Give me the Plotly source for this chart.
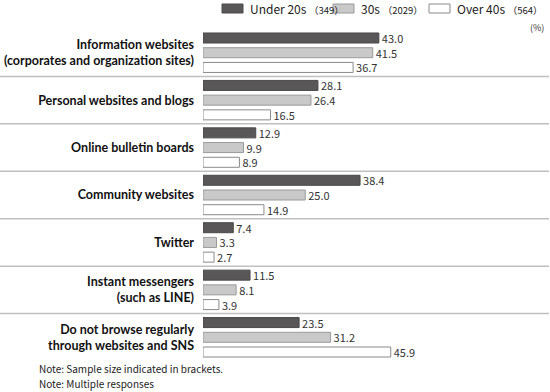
import plotly.graph_objects as go

categories = [
    "Information websites<br>(corporates and organization sites)",
    "Personal websites and blogs",
    "Online bulletin boards",
    "Community websites",
    "Twitter",
    "Instant messengers<br>(such as LINE)",
    "Do not browse regularly<br>through websites and SNS",
]
series_names = ["Under 20s", "30s", "Over 40s"]
sample_sizes = ["349", "2029", "564"]
under20 = [43.0, 28.1, 12.9, 38.4, 7.4, 11.5, 23.5]
s30 = [41.5, 26.4, 9.9, 25.0, 3.3, 8.1, 31.2]
over40 = [36.7, 16.5, 8.9, 14.9, 2.7, 3.9, 45.9]
series_values = [under20, s30, over40]
notes = ["Note: Sample size indicated in brackets.", "Note: Multiple responses"]

fills = ["#595757", "#c9c9c9", "#ffffff"]
outlines = ["#4a4848", "#9a9a9a", "#8a8a8a"]

W, H = 550, 392
L, R, T, B = 203, 1, 29, 31
PW, PH = W - L - R, H - T - B
PX_PER_UNIT = 4.09
xmax = PW / PX_PER_UNIT

def px(x):
    return (x - L) / PW

def py(y):
    return 1 - (y - T) / PH

LABEL_FONT = "Lato, 'Noto Sans', sans-serif"
JP_FONT = "'Noto Sans CJK JP', 'Noto Sans', sans-serif"

fig = go.Figure()
for name, vals, fc, lc in zip(series_names, series_values, fills, outlines):
    fig.add_trace(go.Bar(
        y=categories, x=vals, orientation="h", name=name,
        marker=dict(color=fc, line=dict(color=lc, width=1)),
        text=[f"{v:.1f}" for v in vals], textposition="outside",
        constraintext="none",
        textfont=dict(family=JP_FONT, size=11, color="#333333"),
        cliponaxis=False, showlegend=False,
    ))

shapes = []
for i in range(len(categories) - 1):
    shapes.append(dict(type="line", xref="paper", yref="y",
                       x0=px(0), x1=px(549), y0=i + 0.5, y1=i + 0.5,
                       line=dict(color="#c0c0c0", width=1.5)))

annotations = []
# custom legend
swatch_x = [222, 333, 429]
for name, n, sx, fc, lc in zip(series_names, sample_sizes, swatch_x, fills, outlines):
    shapes.append(dict(type="rect", xref="paper", yref="paper",
                       x0=px(sx), x1=px(sx + 21), y0=py(4), y1=py(13),
                       fillcolor=fc, line=dict(color=lc, width=1)))
    annotations.append(dict(xref="paper", yref="paper", x=px(sx + 26), y=py(8.5),
                            xanchor="left", yanchor="middle", showarrow=False,
                            text=f"{name} <span style='font-size:9.5px'>（{n}）</span>",
                            font=dict(family=JP_FONT, size=12, color="#222222")))
annotations.append(dict(xref="paper", yref="paper", x=px(546), y=py(28),
                        xanchor="right", yanchor="middle", showarrow=False,
                        text="(%)", font=dict(family=JP_FONT, size=9, color="#333333")))
for k, note in enumerate(notes):
    annotations.append(dict(xref="paper", yref="paper", x=px(37), y=py(368 + 15 * k),
                            xanchor="left", yanchor="middle", showarrow=False,
                            text=note, font=dict(family=JP_FONT, size=10, color="#222222")))

fig.update_layout(
    width=W, height=H,
    margin=dict(l=L, r=R, t=T, b=B, pad=0, autoexpand=False),
    paper_bgcolor="white", plot_bgcolor="white",
    barmode="group", bargap=0.069, bargroupgap=0.32,
    shapes=shapes, annotations=annotations,
    showlegend=False,
    xaxis=dict(range=[0, xmax], visible=False, fixedrange=True, automargin=False),
    yaxis=dict(autorange="reversed", tickvals=categories,
               ticktext=[f"<b>{c}</b>" for c in categories],
               tickfont=dict(family=LABEL_FONT, size=12.5, color="#111111"),
               ticks="", showline=False, showgrid=False, zeroline=False,
               ticklabelstandoff=8, automargin=False),
)
fig.write_html("out.html", config={"displayModeBar": False},
               post_script="document.body.style.margin='0';document.body.style.overflow='hidden';")
